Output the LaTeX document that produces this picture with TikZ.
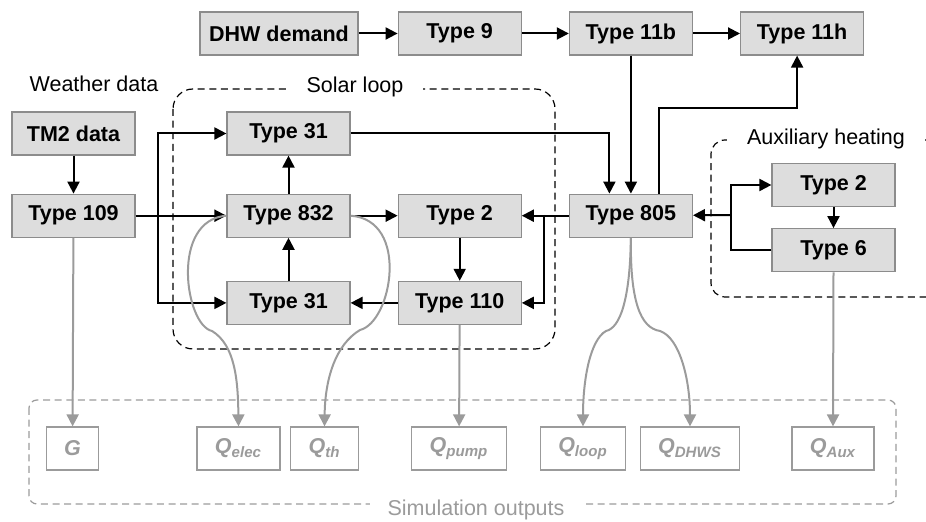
\documentclass[tikz,border=0pt]{standalone}
\usepackage{fontspec}
\setmainfont{Liberation Sans}
\usepackage{xcolor}
\usepackage{tikz}
\usetikzlibrary{positioning,arrows.meta,calc}
\definecolor{boxfill}{RGB}{221,221,221}
\definecolor{boxline}{RGB}{140,140,140}
\definecolor{outgray}{RGB}{155,155,155}

\begin{document}
\begin{tikzpicture}[>={Stealth[length=6pt,width=6pt,inset=0pt]},x=0.5pt,y=-0.5pt,every node/.style={font=\fontsize{10.75pt}{13pt}\selectfont}]
\tikzstyle{blk}=[draw=boxline,fill=boxfill,line width=0.6pt,minimum width=61.5pt,minimum height=21.5pt,inner sep=0pt,font=\fontsize{10.75pt}{13pt}\selectfont\bfseries]
\tikzstyle{outbox}=[draw=outgray,fill=white,line width=0.6pt,minimum height=21.5pt,inner xsep=9pt,inner ysep=0pt,text=outgray,font=\fontsize{10.75pt}{13pt}\selectfont\bfseries\itshape]
\tikzstyle{flow}=[->,line width=1pt]
\tikzstyle{res}=[->,draw=outgray,line width=1pt]
\tikzstyle{grp}=[dash pattern=on 3.5pt off 2.3pt,line width=0.6pt]
\tikzstyle{grplabel}=[fill=white,inner xsep=10pt,inner ysep=1pt]
\useasboundingbox (0,0) rectangle (926,522);

% dashed groups
\draw[grp,rounded corners=10pt] (173,89) rectangle (555,349);
\draw[grp,rounded corners=7pt] (926,140) -| (711,297) -- (926,297);
\draw[grp,draw=outgray,rounded corners=4pt] (29,400) rectangle (896,504);
\node[grplabel] (lsolar) at (355,87) {Solar loop};
\node[grplabel] (laux) at (826,139) {Auxiliary heating};
\node[grplabel,inner xsep=9pt,text=outgray] (lout) at (476,510) {Simulation outputs};
\node (lweather) at (94,84) {Weather data};

% blocks
\node[blk,minimum width=79pt] (dhw) at (279,33.5) {DHW demand};
\node[blk,right=19.5pt of dhw] (t9) {Type 9};
\node[blk,right=23.5pt of t9] (t11b) {Type 11b};
\node[blk,right=23.5pt of t11b] (t11h) {Type 11h};
\node[blk] (tm2) at (73.5,133.5) {TM2 data};
\node[blk,below=19pt of tm2] (t109) {Type 109};
\node[blk] (t31a) at (288.5,133.5) {Type 31};
\node[blk,below=19pt of t31a] (t832) {Type 832};
\node[blk,below=21.5pt of t832] (t31b) {Type 31};
\node[blk,right=23.5pt of t832] (t2) {Type 2};
\node[blk,right=23.5pt of t2] (t805) {Type 805};
\node[blk,below=21.5pt of t2] (t110) {Type 110};
\node[blk] (t2b) at (833.5,185) {Type 2};
\node[blk,below=10.5pt of t2b] (t6) {Type 6};

% outputs
\node[outbox] (G) at (72.5,448.5) {G};
\node[outbox] (Qelec) at (238.5,448.5) {Q\textsubscript{elec}};
\node[outbox] (Qth) at (324.5,448.5) {Q\textsubscript{th}};
\node[outbox] (Qpump) at (459,448.5) {Q\textsubscript{pump}};
\node[outbox] (Qloop) at (583,448.5) {Q\textsubscript{loop}};
\node[outbox] (Qdhws) at (690,448.5) {Q\textsubscript{DHWS}};
\node[outbox] (Qaux) at (833,448.5) {Q\textsubscript{Aux}};

% black connections
\draw[flow] (dhw) -- (t9);
\draw[flow] (t9) -- (t11b);
\draw[flow] (t11b) -- (t11h);
\draw[flow] (tm2) -- (t109);
\coordinate (split) at (158,215);
\draw[flow] (t109) -- (t832);
\draw[flow] (split) |- (t31a);
\draw[flow] (split) |- (t31b);
\draw[flow] (t832) -- (t31a);
\draw[flow] (t31b) -- (t832);
\draw[flow] (t832) -- (t2);
\draw[flow] (t2) -- (t110);
\draw[flow] (t110) -- (t31b);
\draw[flow] (t31a) -| ($(t805.north)+(-21.5,0)$);
\draw[flow] (t11b) -- (t805);
\draw[flow] ($(t805.north)+(28.5,0)$) |- ($(t11h.south)+(-5,52)$) -- ($(t11h.south)+(-5,0)$);
\coordinate (jret) at (544,215);
\draw[flow] (t805) -- (t2);
\draw[flow] (jret) |- (t110);
\coordinate (jaux) at (731,215);
\draw[flow] (t6) -| (jaux) |- (t2b);
\draw[flow] (jaux) -- (t805);
\draw[flow] (t2b) -- (t6);

% grey outputs
\draw[res] (t109) -- (G);
\draw[res] (t110) -- (Qpump);
\draw[res] (t6.south) -- (Qaux.north);
\draw[res] (t832.west) .. controls (170,220) and (185,325) .. (212,331) .. controls (235,345) and (238,380) .. (Qelec.north);
\draw[res] (t832.east) .. controls (410,220) and (392,322) .. (360,330) .. controls (335,345) and (325,380) .. (Qth.north);
\draw[res] (t805.south) .. controls (630,300) and (620,328) .. (606,331) .. controls (590,340) and (583,380) .. (Qloop.north);
\draw[res] (t805.south) .. controls (630,300) and (640,328) .. (660,331) .. controls (680,338) and (690,380) .. (Qdhws.north);
\end{tikzpicture}
\end{document}
